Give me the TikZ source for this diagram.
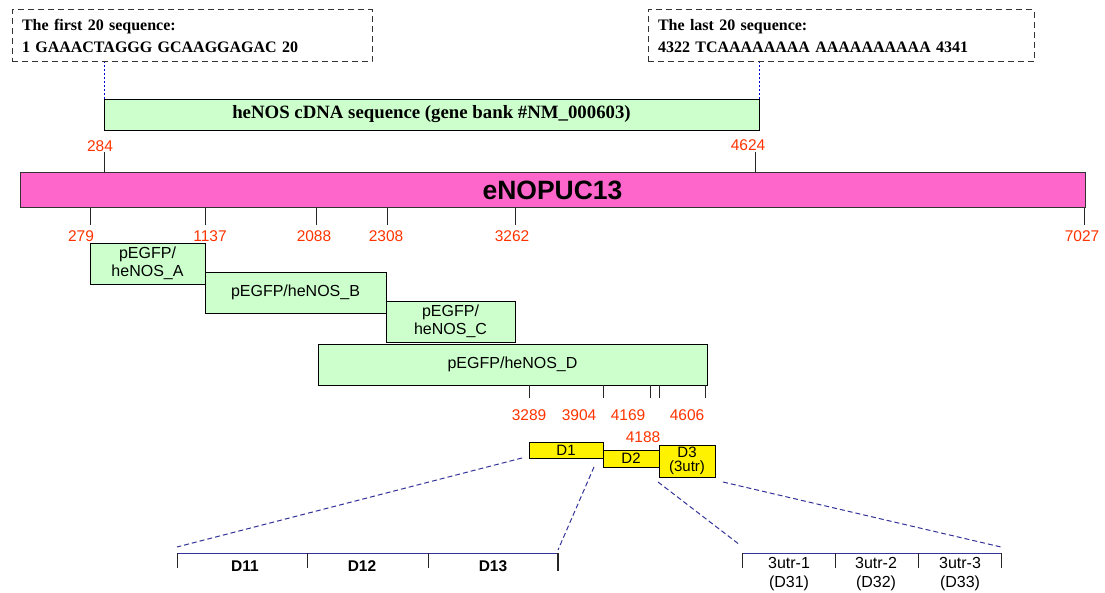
\documentclass[tikz,border=0pt]{standalone}
\usepackage{fontspec}
\setmainfont{Liberation Serif}
\setsansfont{Liberation Sans}
\usetikzlibrary{positioning}
\definecolor{cdnagreen}{HTML}{CCFFCC}
\definecolor{plasmidpink}{HTML}{FF66CC}
\definecolor{posred}{HTML}{FF3300}
\definecolor{zoomblue}{HTML}{333399}
\tikzset{every node/.style={inner sep=0pt, outer sep=0pt},
  seqnote/.style={draw=black!80, dash pattern=on 6pt off 4pt, line width=1pt, anchor=north west,
                  inner xsep=10pt, text width=#1, minimum height=52pt, align=left,
                  font=\bfseries\fontsize{16}{22}\selectfont},
  frag/.style={draw, fill=cdnagreen, line width=0.9pt, anchor=north west, align=center,
               font=\sffamily\fontsize{16}{18}\selectfont},
  subfrag/.style={draw, fill=yellow, line width=0.9pt, anchor=north west, align=center,
                  font=\sffamily\fontsize{15}{14}\selectfont},
  poslabel/.style={text=posred, font=\sffamily\fontsize{15.5}{18}\selectfont},
  postick/.style={black!85, line width=1pt},
  guide/.style={blue!80!black, dash pattern=on 2pt off 2pt, line width=0.8pt},
  zoomline/.style={zoomblue, dash pattern=on 5pt off 3pt, line width=1pt},
  ruler/.style={zoomblue, line width=1pt},
  rulerlabel/.style={align=center, font=\sffamily\fontsize{16}{19}\selectfont}}

\begin{document}
\begin{tikzpicture}[x=1pt,y=-1pt]
  \useasboundingbox (0,0) rectangle (1105,593);

  % sequence ends
  \node[seqnote=340pt] (first20) at (12,10)  {The first 20 sequence:\\1 GAAACTAGGG GCAAGGAGAC 20};
  \node[seqnote=366pt] (last20)  at (648,10) {The last 20 sequence:\\4322 TCAAAAAAAA AAAAAAAAAA 4341};

  \node[frag, minimum width=655pt, minimum height=31pt, font=\bfseries\fontsize{18.8}{20}\selectfont] (cdna) at (104,99)
       {heNOS cDNA sequence (gene bank \#NM\_000603)};
  \draw[guide] (cdna.north west) -- (cdna.north west |- first20.south);
  \draw[guide] (cdna.north east) -- (cdna.north east |- last20.south);

  % the plasmid
  \node[draw=black!80, fill=plasmidpink, line width=1pt, anchor=north west, minimum width=1065pt, minimum height=35pt,
        font=\sffamily\bfseries\fontsize{26.5}{28}\selectfont] (vector) at (20,173) {eNOPUC13};

  \coordinate (t284)  at (104,152);  \draw[postick] (t284)  -- (t284  |- vector.north);
  \coordinate (t4624) at (755,152);  \draw[postick] (t4624) -- (t4624 |- vector.north);
  \node[poslabel] (l284)  at (100,146) {284};
  \node[poslabel] (l4624) at (748,145) {4624};

  \coordinate (t279)  at (90,225);   \draw[postick] (t279)  -- (t279  |- vector.south);
  \coordinate (t1137) at (205,225);  \draw[postick] (t1137) -- (t1137 |- vector.south);
  \coordinate (t2088) at (316,225);  \draw[postick] (t2088) -- (t2088 |- vector.south);
  \coordinate (t2308) at (387,225);  \draw[postick] (t2308) -- (t2308 |- vector.south);
  \coordinate (t3262) at (515,225);  \draw[postick] (t3262) -- (t3262 |- vector.south);
  \coordinate (t7027) at (1084,225); \draw[postick] (t7027) -- (t7027 |- vector.south);
  \node[poslabel] (l279)  at (81,236)   {279};
  \node[poslabel] (l1137) at (210,236)  {1137};
  \node[poslabel] (l2088) at (314,236)  {2088};
  \node[poslabel] (l2308) at (386,236)  {2308};
  \node[poslabel] (l3262) at (512,236)  {3262};
  \node[poslabel] (l7027) at (1082,236) {7027};

  % subclones
  \node[frag, minimum width=115pt, minimum height=41pt] (fragA) at (90,243)  {pEGFP/\\heNOS\_A};
  \node[frag, minimum width=181pt, minimum height=41pt] (fragB) at (205,272) {pEGFP/heNOS\_B};
  \node[frag, minimum width=129pt, minimum height=41pt] (fragC) at (386,301) {pEGFP/\\heNOS\_C};
  \node[frag, minimum width=389pt, minimum height=41pt] (fragD) at (318,344) {pEGFP/heNOS\_D};

  \coordinate (t3289) at (529,398); \draw[postick] (t3289) -- (t3289 |- fragD.south);
  \coordinate (t3904) at (603,398); \draw[postick] (t3904) -- (t3904 |- fragD.south);
  \coordinate (t4169) at (650,398); \draw[postick] (t4169) -- (t4169 |- fragD.south);
  \coordinate (t4188) at (659,398); \draw[postick] (t4188) -- (t4188 |- fragD.south);
  \coordinate (t4606) at (705,398); \draw[postick] (t4606) -- (t4606 |- fragD.south);
  \node[poslabel] (l3289) at (529,415) {3289};
  \node[poslabel] (l3904) at (579,415) {3904};
  \node[poslabel] (l4169) at (628,415) {4169};
  \node[poslabel] (l4606) at (687,415) {4606};
  \node[poslabel] (l4188) at (643,437) {4188};

  \node[subfrag, minimum width=74pt, minimum height=16pt] (D1) at (529,442) {D1};
  \node[subfrag, minimum width=56pt, minimum height=17pt] (D2) at (603,450) {D2};
  \node[subfrag, minimum width=56pt, minimum height=32pt] (D3) at (659,445) {D3\\(3utr)};

  % D1 split
  \coordinate (r1a) at (177,553); \coordinate (r1b) at (307,553);
  \coordinate (r1c) at (428,553); \coordinate (r1d) at (558,553);
  \draw[ruler] (r1a) -- (r1d);
  \draw[postick] (r1a) -- ++(0,15);
  \draw[postick] (r1b) -- ++(0,15);
  \draw[postick] (r1c) -- ++(0,15);
  \draw[postick, line width=1.3pt] (r1d) -- ++(0,18);
  \node[rulerlabel, font=\sffamily\bfseries\fontsize{15.5}{18}\selectfont] (D11) at (245,566) {D11};
  \node[rulerlabel, font=\sffamily\bfseries\fontsize{15.5}{18}\selectfont] (D12) at (362,566) {D12};
  \node[rulerlabel, font=\sffamily\bfseries\fontsize{15.5}{18}\selectfont] (D13) at (493,566) {D13};
  \draw[zoomline] ([xshift=-7pt]D1.south west) -- ([yshift=6pt]r1a);
  \draw[zoomline] ([xshift=-9pt,yshift=-9pt]D1.south east) -- ([yshift=3pt]r1d);

  % D3 split
  \coordinate (r2a) at (742,553); \coordinate (r2b) at (835,553);
  \coordinate (r2c) at (918,553); \coordinate (r2d) at (1001,553);
  \draw[ruler] (r2a) -- (r2d);
  \draw[postick] (r2a) -- ++(0,15);
  \draw[postick] (r2b) -- ++(0,15);
  \draw[postick] (r2c) -- ++(0,15);
  \draw[postick] (r2d) -- ++(0,15);
  \node[rulerlabel] (D31) at (789,574) {3utr-1\\(D31)};
  \node[rulerlabel] (D32) at (876,574) {3utr-2\\(D32)};
  \node[rulerlabel] (D33) at (960,574) {3utr-3\\(D33)};
  \draw[zoomline] ([xshift=-1pt,yshift=-5pt]D3.south west) -- ([xshift=-2pt,yshift=8pt]r2a);
  \draw[zoomline] ([xshift=8pt,yshift=-5pt]D3.south east)  -- ([yshift=6pt]r2d);
\end{tikzpicture}
\end{document}
